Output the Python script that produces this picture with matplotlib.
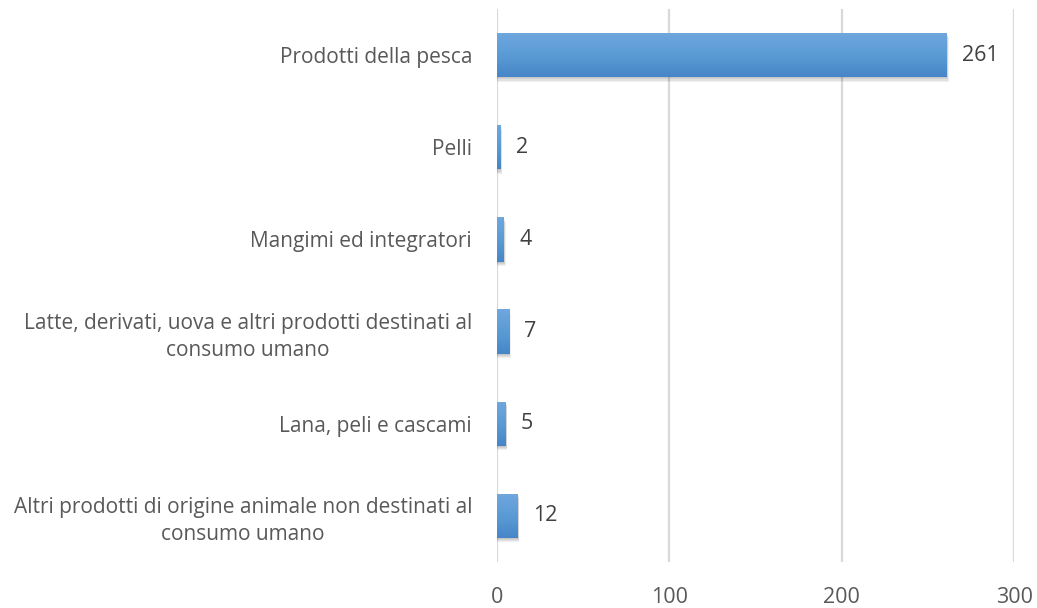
import numpy as np
import matplotlib.pyplot as plt
from matplotlib.patches import Rectangle
from matplotlib.colors import LinearSegmentedColormap

categories = [
    "Prodotti della pesca",
    "Pelli",
    "Mangimi ed integratori",
    "Latte, derivati, uova e altri prodotti destinati al\nconsumo umano",
    "Lana, peli e cascami",
    "Altri prodotti di origine animale non destinati al\nconsumo umano",
]
values = [261, 2, 4, 7, 5, 12]
xticks = [0, 100, 200, 300]

plt.rcParams['font.family'] = ['Open Sans', 'DejaVu Sans']
txt = "#595959"

fig = plt.figure(figsize=(10.37, 6.08), dpi=100)
ax = fig.add_axes([0.4793, 0.0757, 0.4986, 0.9095])

grad = np.linspace(0, 1, 256).reshape(-1, 1)
cmap = LinearSegmentedColormap.from_list("bar", ["#70a7de", "#5b9bd5", "#4686c8"])

h = 0.48
for i, v in enumerate(values):
    # soft shadow
    for k in range(4):
        d = 0.012 * (k + 1)
        sh = Rectangle((0, i - h / 2 + d), v + 0.25 * (k + 1), h, facecolor="#000000",
                       alpha=0.06, edgecolor="none", zorder=2)
        ax.add_patch(sh)
    bar = ax.barh(i, v, height=h, color="#5b9bd5", zorder=3)[0]
    im = ax.imshow(grad, extent=[0, v, i + h / 2, i - h / 2], cmap=cmap, aspect="auto",
                   zorder=4, interpolation="bicubic")
    im.set_clip_path(bar)
    ax.annotate(str(v), (v, i), xytext=(11, 0), textcoords="offset points",
                va="center", ha="left", fontsize=15.5, color="#404040")

ax.set_xlim(0, 300)
ax.set_ylim(len(categories) - 0.5, -0.5)
ax.set_yticks(range(len(categories)))
ax.set_yticklabels(categories, fontsize=15, color=txt, multialignment="center",
                   linespacing=1.35)
ax.set_xticks(xticks)
ax.set_xticklabels([str(t) for t in xticks], fontsize=15.5, color=txt)
ax.tick_params(axis="y", length=0, pad=18)
ax.tick_params(axis="x", length=0, pad=18)
ax.grid(axis="x", color="#d9d9d9", linewidth=1.6, zorder=0)
ax.set_axisbelow(True)
for s in ax.spines.values():
    s.set_visible(False)

fig.savefig("out.png", dpi=100)
